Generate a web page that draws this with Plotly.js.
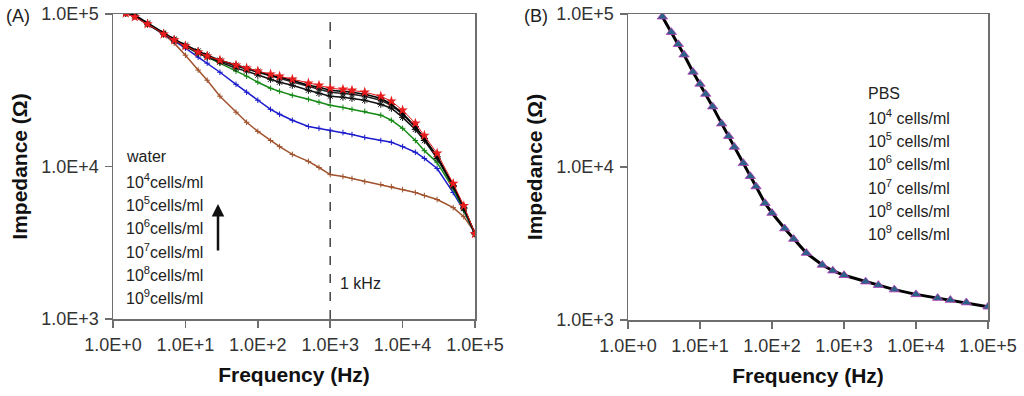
<!DOCTYPE html>
<html>
<head>
<meta charset="utf-8">
<script src="https://cdn.plot.ly/plotly-3.0.1.min.js"></script>
<style>html,body{margin:0;padding:0;background:#fff;}#chart{width:1024px;height:396px;}</style>
</head>
<body>
<div id="chart"></div>
<script>
// ---------- Panel A data (frequency in Hz, impedance in ohm) ----------
const freqA = [1.5, 2, 3, 5, 7, 10, 15, 20, 30, 50, 70, 100, 150, 200, 300, 500, 700, 1000, 1500, 2000, 3000, 5000, 7000, 10000, 15000, 20000, 30000, 50000, 70000, 100000];
const zWater = [101000, 95500, 85900, 73800, 67500, 61600, 56200, 52900, 49800, 46200, 44100, 42200, 40300, 39100, 37300, 35200, 34100, 32600, 32100, 31600, 30700, 28900, 26800, 23400, 19200, 16000, 12200, 7730, 5530, 3620];
const z1e4 = [103000, 98500, 87300, 75000, 68500, 62600, 57200, 53700, 49800, 46200, 44100, 42200, 39700, 38500, 36800, 34100, 33100, 31600, 31100, 30700, 29800, 28000, 25600, 22300, 18300, 15300, 11600, 7500, 5370, 3620];
const z1e5 = [101000, 97000, 85900, 75000, 67500, 61600, 56200, 52900, 49100, 45500, 43500, 41500, 39100, 37900, 35700, 33600, 32100, 30700, 30200, 29800, 28900, 27200, 25200, 22000, 18100, 15300, 11600, 7500, 5370, 3620];
const z1e6 = [101000, 97000, 85900, 73800, 67500, 61600, 55300, 52100, 48300, 44100, 42200, 39700, 37300, 35700, 34100, 31600, 30200, 28900, 28500, 28000, 27200, 25600, 24100, 21000, 17500, 14800, 11300, 7380, 5290, 3620];
const z1e7 = [101000, 97000, 85900, 73800, 67500, 61600, 55300, 52100, 47600, 42200, 39100, 35700, 32600, 31100, 29300, 27600, 26400, 25200, 24400, 23700, 23000, 21700, 20100, 17800, 14800, 12700, 10600, 7160, 5140, 3620];
const z1e8 = [101000, 97000, 85900, 73800, 66400, 59700, 52100, 47600, 41500, 34600, 30700, 27200, 23700, 22000, 20100, 18300, 17800, 17300, 16700, 16200, 15500, 14800, 14400, 13500, 12400, 11300, 9700, 6750, 5140, 3620];
const z1e9 = [101000, 97000, 85900, 73800, 64400, 53700, 42900, 36800, 28900, 22700, 19500, 17000, 14800, 13500, 12000, 10800, 9850, 8850, 8590, 8340, 7960, 7620, 7380, 7060, 6750, 6450, 6070, 5370, 4690, 3680];

// ---------- Panel B data ----------
const freqB = [3, 4, 5, 6, 8, 10, 12, 15, 20, 25, 30, 40, 50, 60, 80, 100, 150, 200, 300, 500, 700, 1000, 2000, 3000, 5000, 10000, 20000, 30000, 50000, 100000];
const zPBS = [96000, 76000, 63400, 54200, 41800, 34900, 30000, 24800, 19200, 15900, 13500, 10600, 8700, 7450, 5800, 5000, 3960, 3380, 2740, 2290, 2100, 1960, 1780, 1690, 1580, 1470, 1390, 1350, 1300, 1220];
const zCells = [96000, 76000, 63400, 54200, 41800, 34900, 30000, 24800, 19200, 15900, 13500, 10600, 8700, 7450, 5800, 5000, 3960, 3380, 2740, 2290, 2100, 1960, 1780, 1690, 1580, 1470, 1390, 1350, 1300, 1220];

// ---------- Text ----------
const xTickVals = [1, 10, 100, 1000, 10000, 100000];
const xTickText = ['1.0E+0', '1.0E+1', '1.0E+2', '1.0E+3', '1.0E+4', '1.0E+5'];
const yTickVals = [1000, 10000, 100000];
const yTickText = ['1.0E+3', '1.0E+4', '1.0E+5'];
const legendA = ['water', '10<sup>4</sup>cells/ml', '10<sup>5</sup>cells/ml', '10<sup>6</sup>cells/ml', '10<sup>7</sup>cells/ml', '10<sup>8</sup>cells/ml', '10<sup>9</sup>cells/ml'];
const legendB = ['PBS', '10<sup>4</sup> cells/ml', '10<sup>5</sup> cells/ml', '10<sup>6</sup> cells/ml', '10<sup>7</sup> cells/ml', '10<sup>8</sup> cells/ml', '10<sup>9</sup> cells/ml'];

const W = 1024, H = 396;
const px = v => v / W, py = v => 1 - v / H;
const FONT = 'Liberation Sans, Arial, sans-serif';

const traces = [
  {x: freqA, y: z1e9, mode: 'lines+markers', line: {color: '#a0522d', width: 1.5}, marker: {symbol: 'cross-thin-open', size: 4, line: {color: '#c8702a', width: 1}}, xaxis: 'x', yaxis: 'y', name: '10^9'},
  {x: freqA, y: z1e8, mode: 'lines+markers', line: {color: '#1c1ccc', width: 1.5}, marker: {symbol: 'cross-thin-open', size: 4, line: {color: '#2a2aee', width: 1}}, xaxis: 'x', yaxis: 'y', name: '10^8'},
  {x: freqA, y: z1e7, mode: 'lines+markers', line: {color: '#168a16', width: 1.5}, marker: {symbol: 'cross-thin-open', size: 4, line: {color: '#1a9a1a', width: 1}}, xaxis: 'x', yaxis: 'y', name: '10^7'},
  {x: freqA, y: z1e6, mode: 'lines+markers', line: {color: '#111', width: 1.5}, marker: {symbol: 'asterisk-open', size: 6, line: {color: '#111', width: 1}}, xaxis: 'x', yaxis: 'y', name: '10^6'},
  {x: freqA, y: z1e5, mode: 'lines+markers', line: {color: '#222', width: 1.5}, marker: {symbol: 'circle-open', size: 4, line: {color: '#333', width: 1}}, xaxis: 'x', yaxis: 'y', name: '10^5'},
  {x: freqA, y: z1e4, mode: 'lines+markers', line: {color: '#000', width: 1.5}, marker: {symbol: 'asterisk-open', size: 6, line: {color: '#000', width: 1}}, xaxis: 'x', yaxis: 'y', name: '10^4'},
  {x: freqA, y: zWater, mode: 'lines+markers', line: {color: '#e01818', width: 1}, marker: {symbol: 'star', size: 8, color: '#e81c1c'}, xaxis: 'x', yaxis: 'y', name: 'water'},

  {x: freqB, y: zPBS, mode: 'lines', line: {color: '#000', width: 3}, xaxis: 'x2', yaxis: 'y2', name: 'PBS'},
  {x: freqB, y: zCells, mode: 'markers', marker: {symbol: 'triangle-up', size: 9, color: '#2a6385', line: {color: '#b838b8', width: 0.8}}, xaxis: 'x2', yaxis: 'y2', name: 'cells'}
];

const axisCommon = {
  type: 'log', range: [0, 5], tickmode: 'array', tickvals: xTickVals, ticktext: xTickText,
  showgrid: false, zeroline: false, showline: true, linecolor: '#6e6e6e', linewidth: 1.5, mirror: true,
  ticks: 'outside', ticklen: 7, tickcolor: '#6e6e6e', tickwidth: 1.5,
  tickfont: {family: FONT, size: 18, color: '#333'},
  ticklabelstandoff: 2,
  title: {text: 'Frequency (Hz)', font: {family: FONT, size: 21, color: '#111', weight: 'bold'}, standoff: 13}
};
const yCommon = {
  type: 'log', range: [3, 5], tickmode: 'array', tickvals: yTickVals, ticktext: yTickText,
  showgrid: false, zeroline: false, showline: true, linecolor: '#6e6e6e', linewidth: 1.5, mirror: true,
  ticks: 'outside', ticklen: 7, tickcolor: '#6e6e6e', tickwidth: 1.5,
  tickfont: {family: FONT, size: 18, color: '#333'},
  ticklabelstandoff: 2,
  title: {text: 'Impedance (Ω)', font: {family: FONT, size: 21, color: '#111', weight: 'bold'}, standoff: 8}
};

const txtFont = {family: FONT, size: 16, color: '#222'};
const annotations = [];
const yA = [157, 181, 204, 227, 251, 274, 297];
legendA.forEach((t, i) => annotations.push({xref: 'paper', yref: 'paper', x: px(124), y: py(yA[i]), text: t, showarrow: false, xanchor: 'left', yanchor: 'middle', font: txtFont}));
const yB = [93, 117, 140, 163, 187, 210, 233];
legendB.forEach((t, i) => annotations.push({xref: 'paper', yref: 'paper', x: px(866), y: py(yB[i]), text: t, showarrow: false, xanchor: 'left', yanchor: 'middle', font: txtFont}));
annotations.push({xref: 'paper', yref: 'paper', x: px(218), y: py(204), ax: 0, ay: 48, text: '', showarrow: true, arrowhead: 2, arrowsize: 1, arrowwidth: 2.5, arrowcolor: '#111'});
annotations.push({xref: 'paper', yref: 'paper', x: px(338), y: py(283), text: '1 kHz', showarrow: false, xanchor: 'left', yanchor: 'middle', font: txtFont});
annotations.push({xref: 'paper', yref: 'paper', x: px(4), y: py(16), text: '(A)', showarrow: false, xanchor: 'left', yanchor: 'middle', font: {family: FONT, size: 18, color: '#222'}});
annotations.push({xref: 'paper', yref: 'paper', x: px(522), y: py(16), text: '(B)', showarrow: false, xanchor: 'left', yanchor: 'middle', font: {family: FONT, size: 18, color: '#222'}});

const layout = {
  width: W, height: H, margin: {l: 0, r: 0, t: 0, b: 0}, paper_bgcolor: '#fff', plot_bgcolor: '#fff',
  showlegend: false,
  xaxis: Object.assign({}, axisCommon, {domain: [px(113), px(475)], anchor: 'y'}),
  yaxis: Object.assign({}, yCommon, {domain: [py(319), py(14)], anchor: 'x'}),
  xaxis2: Object.assign({}, axisCommon, {domain: [px(628), px(988)], anchor: 'y2'}),
  yaxis2: Object.assign({}, yCommon, {domain: [py(320), py(14)], anchor: 'x2'}),
  shapes: [{type: 'line', xref: 'x', yref: 'y domain', x0: 1000, x1: 1000, y0: 0, y1: 1, line: {color: '#444', width: 1.5, dash: 'dash'}, layer: 'below'}],
  annotations: annotations
};

Plotly.newPlot('chart', traces, layout, {staticPlot: true, displayModeBar: false});
</script>
</body>
</html>
